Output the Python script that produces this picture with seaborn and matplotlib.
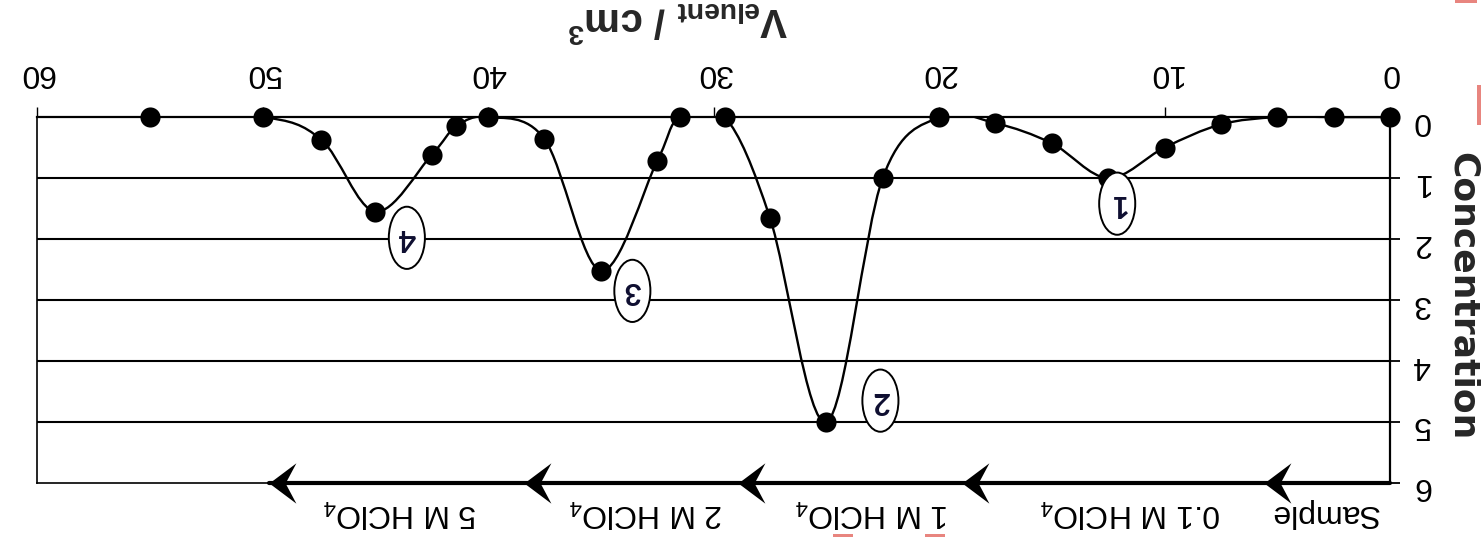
import numpy as np
import pandas as pd
import matplotlib
matplotlib.use("Agg")
import matplotlib.pyplot as plt
import seaborn as sns
from matplotlib.path import Path
from matplotlib.patches import PathPatch, Ellipse, Rectangle

# elution curve
volume = [0, 2.5, 5, 7.5, 10, 12.5, 15, 17.5, 20, 22.5, 25, 27.5, 29.5,
          31.5, 32.5, 35, 37.5, 40, 41.4, 42.5, 45, 47.4, 50, 55]
conc = [0, 0, 0, 0.12, 0.5, 1.0, 0.43, 0.1, 0, 1.0, 5.0, 1.65, 0,
        0, 0.72, 2.52, 0.36, 0, 0.15, 0.62, 1.55, 0.37, 0, 0]

x_ticks = [0, 10, 20, 30, 40, 50, 60]
y_ticks = [0, 1, 2, 3, 4, 5, 6]

peak_labels = ["1", "2", "3", "4"]
peak_x = [12.1, 22.6, 33.6, 43.6]
peak_y = [1.42, 4.65, 2.85, 1.98]

eluents = ["Sample", "0.1 M HClO$_4$", "1 M HClO$_4$", "2 M HClO$_4$", "5 M HClO$_4$"]
eluent_x = [2.9, 11.5, 23.0, 33.0, 43.9]
arrow_tips = [5.6, 19.0, 28.9, 38.4, 49.7]

df = pd.DataFrame({"V": volume, "C": conc})

sns.set_theme(style="white")
plt.rcParams["font.family"] = "sans-serif"
plt.rcParams["font.sans-serif"] = ["Liberation Sans", "DejaVu Sans"]
plt.rcParams["mathtext.fontset"] = "custom"
plt.rcParams["mathtext.rm"] = "Liberation Sans"
plt.rcParams["mathtext.bf"] = "Liberation Sans:bold"

fig = plt.figure(figsize=(14.81, 5.37), dpi=100)
ax = fig.add_axes([0.025, 0.1006, 0.9136, 0.6814])

# smoothed line like the spreadsheet "smoothed line" option (cubic bezier through the points)
pts = df[["V", "C"]].to_numpy()
ext = np.vstack([pts[0], pts, pts[-1]])
verts = [tuple(pts[0])]
codes = [Path.MOVETO]
for i in range(1, len(ext) - 2):
    p0, p1, p2, p3 = ext[i - 1], ext[i], ext[i + 1], ext[i + 2]
    c1 = p1 + (p2 - p0) / 6
    c2 = p2 - (p3 - p1) / 6
    verts += [tuple(c1), tuple(c2), tuple(p2)]
    codes += [Path.CURVE4] * 3
ax.add_patch(PathPatch(Path(verts, codes), fc="none", ec="black", lw=1.7, zorder=3))

sns.scatterplot(data=df, x="V", y="C", ax=ax, color="black", s=210,
                edgecolor="black", linewidth=0, zorder=4, legend=False, clip_on=False)

ax.set_xlim(60, 0)
ax.set_ylim(6, 0)
ax.set_xticks(x_ticks)
ax.set_yticks(y_ticks)
ax.xaxis.tick_top()
ax.yaxis.tick_right()
ax.tick_params(axis="x", direction="out", length=7, width=1, pad=14,
               labelsize=23, labelrotation=180, colors="black", top=True, bottom=False)
ax.tick_params(axis="y", direction="out", length=7, width=1.3, pad=9,
               labelsize=23, labelrotation=180, colors="black", right=True, left=False)

for yv in y_ticks[1:-1]:
    ax.axhline(yv, color="black", lw=1.5, zorder=1)

for side in ["top", "right", "left", "bottom"]:
    ax.spines[side].set_visible(True)
    ax.spines[side].set_color("black")
ax.spines["top"].set_linewidth(1.6)
ax.spines["right"].set_linewidth(1.6)
ax.spines["left"].set_linewidth(1.2)
ax.spines["bottom"].set_linewidth(1.2)

ax.xaxis.set_label_position("top")
ax.set_xlabel("V$_{\\mathbf{eluent}}$ / cm$^{\\mathbf{3}}$", fontsize=29,
              fontweight="bold", rotation=180)
ax.xaxis.label.set_va("center")
ax.xaxis.label.set_ha("center")
ax.xaxis.set_label_coords(0.474, 1.26)

ax.yaxis.set_label_position("right")
ax.set_ylabel("Concentration", fontsize=26, fontweight="bold", rotation=270,
              family="DejaVu Sans")
ax.yaxis.label.set_va("center")
ax.yaxis.label.set_ha("center")
ax.yaxis.label.set_rotation_mode("default")
ax.yaxis.set_label_coords(1.054, 0.51)

# peak numbers in ellipses
for lab, px, py in zip(peak_labels, peak_x, peak_y):
    ax.add_patch(Ellipse((px, py), width=1.6, height=1.02, fc="white",
                         ec="black", lw=1.4, zorder=5))
    ax.text(px, py, lab, rotation=180, ha="center", va="center", fontsize=22,
            color="#0e0e30", family="Lato", fontweight="bold", zorder=6)

# eluent arrows along the bottom
ax.plot([0, arrow_tips[-1]], [6, 6], color="black", lw=3, zorder=5, clip_on=False)
stealth = Path([(0, 0), (1.0, 0.75), (0.6, 0), (1.0, -0.75), (0, 0)],
               [Path.MOVETO, Path.LINETO, Path.LINETO, Path.LINETO, Path.CLOSEPOLY])
sns.scatterplot(x=arrow_tips, y=[6] * len(arrow_tips), ax=ax, marker=stealth,
                s=1500, color="black", linewidth=0, zorder=6, clip_on=False, legend=False)
for lab, ex in zip(eluents, eluent_x):
    ax.text(ex, 6.5, lab, rotation=180, ha="center", va="center", fontsize=23,
            color="black")

# small red fragments at the page edge
for rx, ry, rw, rh in [(1455, 534, 22, 3), (1477, 412, 4, 40), (833, 0, 20, 3), (925, 0, 20, 3)]:
    fig.add_artist(Rectangle((rx / 1481, ry / 537), rw / 1481, rh / 537,
                             transform=fig.transFigure, color="#e8857f", lw=0))

fig.savefig("out.png", dpi=100)
